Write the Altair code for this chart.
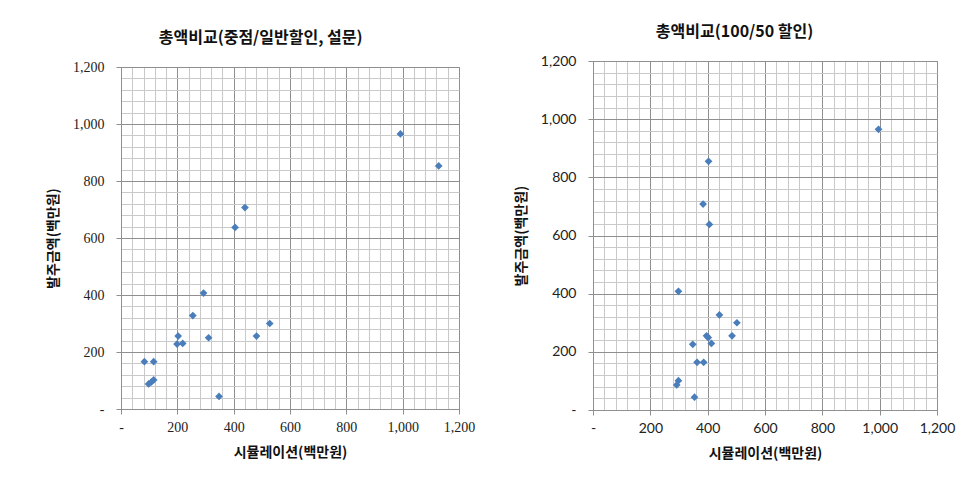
import altair as alt
import pandas as pd

title_left = "총액비교(중점/일반할인, 설문)"
title_right = "총액비교(100/50 할인)"
x_title = "시뮬레이션(백만원)"
y_title = "발주금액(백만원)"

left_x = [992, 1128, 440, 405, 293, 255, 528, 481, 203, 311, 199, 219, 83, 116, 98, 108, 116, 348]
left_y = [965, 853, 707, 637, 407, 328, 300, 256, 256, 250, 228, 230, 166, 166, 88, 95, 102, 44]
right_x = [996, 403, 384, 406, 298, 441, 502, 485, 396, 402, 348, 413, 363, 386, 298, 292, 354]
right_y = [965, 855, 708, 638, 408, 327, 300, 255, 255, 249, 226, 229, 164, 164, 101, 86, 44]

grid_values = list(range(0, 1201, 40))

MAJOR = "datum.value % 200 === 0"
LABEL_EXPR = "datum.value == 0 ? '-' : (datum.value % 200 == 0 ? format(datum.value, ',') : '')"


def axis(title, font, label_size, orient):
    common = dict(
        title=title,
        values=grid_values,
        labelExpr=LABEL_EXPR,
        labelFont=font,
        labelFontSize=label_size,
        labelColor="#222222",
        labelOverlap=False,
        labelFlush=False,
        grid=True,
        gridColor={"condition": {"test": MAJOR, "value": "#8f8f8f"}, "value": "#c9c9c9"},
        gridWidth=1,
        tickColor="#8f8f8f",
        tickSize=5,
        tickOpacity={"condition": {"test": MAJOR, "value": 1}, "value": 0},
        domainColor="#8f8f8f",
        titleFont="Noto Sans CJK KR",
        titleFontSize=14,
        titleFontWeight="bold",
        titleColor="#111111",
    )
    if orient == "x":
        common.update(labelPadding=6, titlePadding=11)
    else:
        common.update(labelPadding=12, titlePadding=12)
    return alt.Axis(**common)


def panel(xs, ys, title, font, label_size, w, h):
    df = pd.DataFrame({"x": xs, "y": ys})
    return (
        alt.Chart(df)
        .mark_point(shape="diamond", filled=True, size=60, color="#4a7ebb", opacity=1)
        .encode(
            x=alt.X("x:Q", scale=alt.Scale(domain=[0, 1200], nice=False),
                    axis=axis(x_title, font, label_size, "x")),
            y=alt.Y("y:Q", scale=alt.Scale(domain=[0, 1200], nice=False),
                    axis=axis(y_title, font, label_size, "y")),
        )
        .properties(
            width=w,
            height=h,
            title=alt.TitleParams(
                title, font="Noto Sans CJK KR", fontSize=16, fontWeight="bold",
                color="#111111", frame="bounds", anchor="middle", offset=14,
            ),
        )
    )


def spacer(w, h):
    return (
        alt.Chart(pd.DataFrame({"a": [0]}))
        .mark_point(opacity=0)
        .encode(x=alt.value(0), y=alt.value(0))
        .properties(width=w, height=h,
                    view=alt.ViewBackground(strokeOpacity=0, fillOpacity=0))
    )


left = panel(left_x, left_y, title_left, "Liberation Serif", 14, 338, 342)
right = panel(right_x, right_y, title_right, "Lato", 14, 344, 349)

chart = (
    alt.hconcat(
        alt.vconcat(spacer(338, 9), left, spacing=0),
        alt.vconcat(spacer(344, 1), right, spacing=0),
        spacing=37,
    )
    .properties(padding={"left": 46, "top": 17, "right": 10, "bottom": 10}, background="white")
    .configure_view(stroke="#8f8f8f", strokeWidth=1)
)

chart.save("out.html", embed_options={"renderer": "svg", "actions": False})
